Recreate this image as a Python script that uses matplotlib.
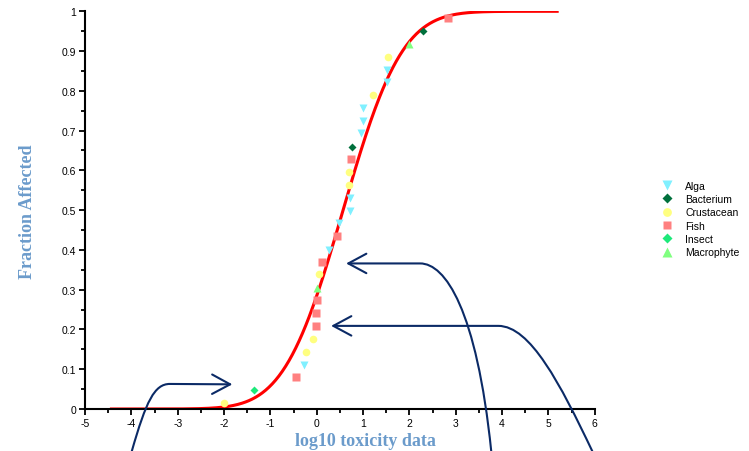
import math
import numpy as np
import matplotlib
matplotlib.use("Agg")
import matplotlib.pyplot as plt
from matplotlib.path import Path
from matplotlib.patches import FancyArrowPatch

plt.rcParams['font.family'] = ['Liberation Sans', 'DejaVu Sans']
plt.rcParams['axes.unicode_minus'] = False

# species sensitivity data (log10 toxicity, plotting position)
groups = ['Alga', 'Bacterium', 'Crustacean', 'Fish', 'Insect', 'Macrophyte']
alga_x = [-0.27, 0.27, 0.49, 0.71, 0.71, 0.95, 0.99, 1.00, 1.51, 1.51]
alga_y = [0.110, 0.400, 0.467, 0.499, 0.530, 0.693, 0.723, 0.756, 0.821, 0.853]
bact_x = [0.76, 2.29]
bact_y = [0.660, 0.950]
crust_x = [-2.00, -0.24, -0.08, 0.04, 0.70, 0.70, 1.22, 1.53]
crust_y = [0.016, 0.143, 0.176, 0.339, 0.564, 0.596, 0.790, 0.886]
fish_x = [-0.44, -0.01, -0.01, 0.00, 0.11, 0.43, 0.74, 2.83]
fish_y = [0.080, 0.208, 0.242, 0.273, 0.370, 0.434, 0.629, 0.983]
insect_x = [-1.35]
insect_y = [0.048]
macro_x = [0.00, 2.00]
macro_y = [0.304, 0.919]

# fitted log-normal SSD
fit_mu = 0.57
fit_sigma = 1.0
fit_range = (-4.43, 5.19)

# annotation arrows (data coords): start, bezier controls, corner, tip
arrow1 = [(-3.99, -0.106), (-3.68, 0.02), (-3.5, 0.063), (-3.17, 0.063), (-1.82, 0.062)]
arrow2 = [(3.767, -0.106), (3.45, 0.251), (2.773, 0.366), (2.233, 0.366), (0.635, 0.366)]
arrow3 = [(5.948, -0.106), (5.257, 0.063), (4.609, 0.209), (3.918, 0.209), (0.311, 0.209)]

fig = plt.figure(figsize=(7.49, 4.52), dpi=100)
ax = fig.add_axes([85 / 749, 42 / 452, 509.7 / 749, 397.7 / 452])

xs = np.linspace(fit_range[0], fit_range[1], 400)
ys = np.array([0.5 * (1 + math.erf((v - fit_mu) / (fit_sigma * math.sqrt(2)))) for v in xs])
ax.plot(xs, ys, color='#ff0000', lw=2.2, zorder=2)

ax.plot(alga_x, alga_y, 'v', color='#80f0ff', ms=6, mec='none', label='Alga', zorder=3)
ax.plot(bact_x, bact_y, 'D', color='#00703c', ms=4, mec='none', label='Bacterium', zorder=3)
ax.plot(crust_x, crust_y, 'o', color='#ffff80', ms=5.5, mec='none', label='Crustacean', zorder=3)
ax.plot(fish_x, fish_y, 's', color='#ff8080', ms=5.5, mec='none', label='Fish', zorder=3)
ax.plot(insect_x, insect_y, 'D', color='#1de97a', ms=4, mec='none', label='Insect', zorder=3)
ax.plot(macro_x, macro_y, '^', color='#80ff80', ms=6, mec='none', label='Macrophyte', zorder=3)

navy = '#0b2a66'
codes = [Path.MOVETO, Path.CURVE4, Path.CURVE4, Path.CURVE4, Path.LINETO]
for arr in [arrow1, arrow2, arrow3]:
    p = FancyArrowPatch(path=Path(arr, codes), arrowstyle='->,head_length=1.3,head_width=0.7',
                        mutation_scale=10, color=navy, lw=1.5, shrinkA=0, shrinkB=0,
                        clip_on=False, zorder=4)
    ax.add_patch(p)

ax.set_xlim(-5, 6)
ax.set_ylim(0, 1)
ax.spines['top'].set_visible(False)
ax.spines['right'].set_visible(False)
for s in ['left', 'bottom']:
    ax.spines[s].set_linewidth(1.5)

ax.set_xticks(np.arange(-5, 7, 1))
ax.set_xticks(np.arange(-4.5, 6, 1), minor=True)
ax.set_xticklabels([str(v) for v in range(-5, 7)])
ax.set_yticks(np.arange(0, 1.01, 0.1))
ax.set_yticks(np.arange(0.05, 1, 0.1), minor=True)
ax.set_yticklabels(['0', '0.1', '0.2', '0.3', '0.4', '0.5', '0.6', '0.7', '0.8', '0.9', '1'])
ax.tick_params(which='major', length=4.5, width=1.3, labelsize=7.5, pad=2)
ax.tick_params(which='minor', length=3, width=1.3)

lab_color = '#6b9bcb'
fig.text(28 / 749, 1 - 212 / 452, 'Fraction Affected', rotation=90, ha='center', va='center',
         family='Liberation Serif', weight='bold', size=13, color=lab_color)
fig.text(365 / 749, 1 - 442 / 452, 'log10 toxicity data', ha='center', va='center',
         family='Liberation Serif', weight='bold', size=13, color=lab_color)

fig.legend(loc='upper left', bbox_to_anchor=(661.5 / 749, 1 - 181.5 / 452), frameon=False,
           fontsize=7.5, handlelength=1.0, handletextpad=1.26, labelspacing=0.32,
           borderpad=0, borderaxespad=0, numpoints=1, markerscale=1.15)

fig.savefig('out.png', dpi=100)
